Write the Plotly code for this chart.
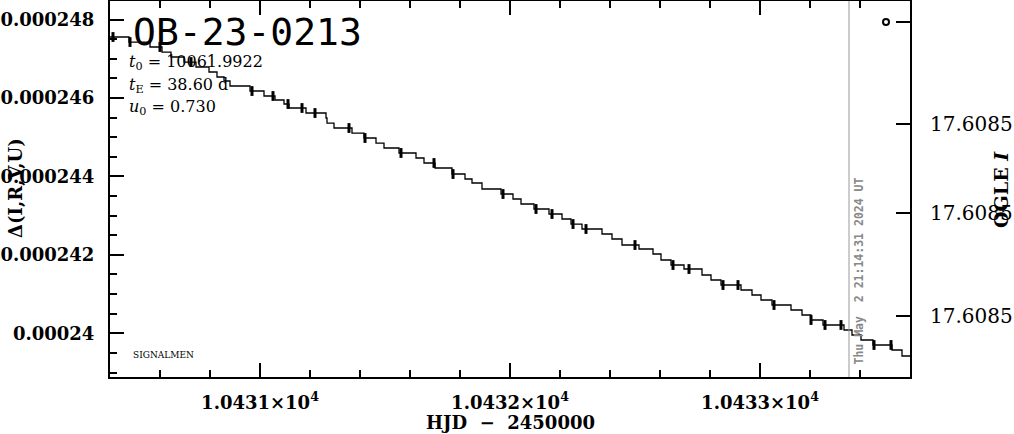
import numpy as np
import plotly.graph_objects as go

# ---- data ----
# staircase model curve: start HJD of each level and its Delta value (units of 1e-6)
step_hjd = [
    10430.400, 10430.476, 10430.560, 10430.608, 10430.644, 10430.696, 10430.744, 10430.796,
    10430.828, 10430.856, 10430.880, 10430.960, 10431.016, 10431.060, 10431.096, 10431.116,
    10431.184, 10431.264, 10431.268, 10431.296, 10431.368, 10431.416, 10431.464, 10431.496,
    10431.556, 10431.624, 10431.656, 10431.700, 10431.768, 10431.820, 10431.848, 10431.888,
    10431.964, 10432.012, 10432.044, 10432.096, 10432.156, 10432.208, 10432.244, 10432.288,
    10432.368, 10432.408, 10432.448, 10432.516, 10432.572, 10432.604, 10432.644, 10432.696,
    10432.768, 10432.804, 10432.844, 10432.924, 10432.968, 10433.004, 10433.048, 10433.124,
    10433.168, 10433.204, 10433.252, 10433.336, 10433.368, 10433.404, 10433.452, 10433.528,
    10433.568,
]
step_delta = [
    247.554, 247.426, 247.299, 247.171, 247.044, 246.916, 246.789, 246.662,
    246.534, 246.432, 246.305, 246.177, 246.050, 245.948, 245.846, 245.744,
    245.616, 245.489, 245.361, 245.234, 245.106, 244.979, 244.851, 244.724,
    244.597, 244.469, 244.342, 244.214, 244.061, 243.934, 243.832, 243.679,
    243.551, 243.424, 243.296, 243.169, 243.041, 242.914, 242.786, 242.659,
    242.532, 242.404, 242.251, 242.149, 242.022, 241.869, 241.741, 241.639,
    241.486, 241.359, 241.231, 241.104, 240.976, 240.849, 240.721, 240.594,
    240.467, 240.339, 240.212, 240.084, 239.957, 239.829, 239.702, 239.574,
    239.421,
]
curve_end_hjd = 10433.6

# observation epochs (small glitches on the curve)
obs_hjd = [
    10430.412, 10430.480, 10430.600, 10430.724, 10430.968, 10431.052, 10431.112,
    10431.168, 10431.220, 10431.356, 10431.420, 10431.564, 10431.696, 10431.772,
    10431.972, 10432.104, 10432.168, 10432.252, 10432.304, 10432.500, 10432.652, 10432.716,
    10432.852, 10432.912, 10433.056, 10433.204, 10433.260, 10433.324, 10433.456, 10433.524,
]

# single symbol at top right
sym_hjd = [10433.504]
sym_delta = [247.936]

now_hjd = 10433.356
now_label = "Thu May\u00a0\u00a02 21:14:31 2024 UT"

x_tick_vals = [10431, 10432, 10433]
x_tick_text = ["1.0431×10<sup>4</sup>", "1.0432×10<sup>4</sup>", "1.0433×10<sup>4</sup>"]
y_tick_vals = [240, 242, 244, 246, 248]          # units of 1e-6
y_tick_text = ["0.00024", "0.000242", "0.000244", "0.000246", "0.000248"]
r_tick_vals = [247.936, 245.336, 243.067, 240.441]  # units of 1e-6 on left scale
r_tick_text = ["", "17.6085", "17.6085", "17.6085"]

event_name = "OB-23-0213"
params = ["<i>t</i><sub>0</sub> = 10061.9922",
          "<i>t</i><sub>E</sub> = 38.60 d",
          "<i>u</i><sub>0</sub> = 0.730"]

# ---- figure ----
SC = 1e-6
W, H = 1014, 434
ML, MR, MT, MB = 110, 104, 1, 57
PW, PH = W - ML - MR, H - MT - MB

def px(xp):
    return (xp - ML) / PW

def py(yp):
    return (H - MB - yp) / PH

xr = [10430.4, 10433.6]
yr = [238.886 * SC, 248.472 * SC]

sx = np.array(step_hjd)
sy = np.array(step_delta) * SC
lx = np.append(sx, curve_end_hjd)
ly = np.append(sy, sy[-1])

idx = np.searchsorted(sx, np.array(obs_hjd), side="right") - 1
oy = sy[idx]

fig = go.Figure()
fig.add_trace(go.Scatter(x=lx, y=ly, mode="lines", line=dict(color="black", width=1.3, shape="hv"),
                         showlegend=False, hoverinfo="skip"))
fig.add_trace(go.Scatter(x=obs_hjd, y=oy, mode="markers",
                         marker=dict(symbol="line-ns", size=7, color="black",
                                     line=dict(width=3, color="black")),
                         showlegend=False, hoverinfo="skip"))
fig.add_trace(go.Scatter(x=sym_hjd, y=np.array(sym_delta) * SC, yaxis="y2", mode="markers",
                         marker=dict(symbol="circle-open", size=6, color="black", line=dict(width=2, color="black")),
                         showlegend=False, hoverinfo="skip"))

tickfont_b = dict(family="DejaVu Serif", size=18, color="black", weight="bold")

fig.update_layout(
    width=W, height=H,
    margin=dict(l=ML, r=MR, t=MT, b=MB, pad=0, autoexpand=False),
    paper_bgcolor="white", plot_bgcolor="white",
    xaxis=dict(range=xr, showgrid=False, zeroline=False, showline=True, linecolor="black", linewidth=2,
               mirror="ticks", ticks="inside", ticklen=14, tickwidth=1.5, tickcolor="black",
               tickmode="array", tickvals=x_tick_vals, ticktext=x_tick_text, automargin=False,
               tickfont=tickfont_b, ticklabelstandoff=8,
               minor=dict(ticks="inside", ticklen=7, tickwidth=1.5, tickcolor="black",
                          tickmode="linear", tick0=10430.4, dtick=0.2)),
    yaxis=dict(range=yr, showgrid=False, zeroline=False, showline=True, linecolor="black", linewidth=2,
               mirror=False, ticks="inside", ticklen=14, tickwidth=1.5, tickcolor="black",
               tickmode="array", tickvals=[v * SC for v in y_tick_vals], ticktext=y_tick_text,
               automargin=False, tickfont=tickfont_b, ticklabelstandoff=10,
               minor=dict(ticks="inside", ticklen=7, tickwidth=1.5, tickcolor="black",
                          tickmode="linear", tick0=240 * SC, dtick=0.5 * SC)),
    yaxis2=dict(range=yr, overlaying="y", side="right", showgrid=False, zeroline=False,
                showline=True, linecolor="black", linewidth=2, automargin=False,
                ticks="inside", ticklen=14, tickwidth=1.5, tickcolor="black",
                tickmode="array", tickvals=[v * SC for v in r_tick_vals], ticktext=r_tick_text,
                tickfont=dict(family="DejaVu Serif", size=20, color="black"), ticklabelstandoff=14),
    showlegend=False,
)

fig.add_shape(type="line", xref="x", yref="paper", x0=now_hjd, x1=now_hjd, y0=0, y1=1,
              line=dict(color="#999999", width=1))

anns = [
    dict(text=event_name, x=px(131), y=py(32), xanchor="left", yanchor="middle",
         font=dict(family="DejaVu Sans Mono", size=38, color="black")),
    dict(text=params[0], x=px(127), y=py(62), xanchor="left", yanchor="middle",
         font=dict(family="DejaVu Serif", size=16, color="black")),
    dict(text=params[1], x=px(127), y=py(85), xanchor="left", yanchor="middle",
         font=dict(family="DejaVu Serif", size=16, color="black")),
    dict(text=params[2], x=px(127), y=py(107), xanchor="left", yanchor="middle",
         font=dict(family="DejaVu Serif", size=16, color="black")),
    dict(text="SIGNALMEN", x=px(131), y=py(355), xanchor="left", yanchor="middle",
         font=dict(family="DejaVu Serif", size=9, color="black")),
    dict(text=now_label, x=px(858), y=py(367), xanchor="center", yanchor="bottom", textangle=-90,
         font=dict(family="DejaVu Sans Mono", size=11.5, color="#888888", weight="bold")),
    dict(text="Δ(I,R,V,U)", x=px(15), y=py(188), xanchor="center", yanchor="middle", textangle=-90,
         font=dict(family="DejaVu Serif", size=18, color="black", weight="bold")),
    dict(text="OGLE <i>I</i>", x=px(1001), y=py(190), xanchor="center", yanchor="middle", textangle=-90,
         font=dict(family="DejaVu Serif", size=19, color="black", weight="bold")),
    dict(text="HJD\u00a0\u00a0−\u00a0\u00a02450000", x=px(510), y=py(422), xanchor="center", yanchor="middle",
         font=dict(family="DejaVu Serif", size=18, color="black", weight="bold")),
]
for a in anns:
    fig.add_annotation(xref="paper", yref="paper", showarrow=False, **a)

fig.write_html("out.html", config={"displayModeBar": False},
               post_script="document.body.style.margin='0px';document.body.style.padding='0px';")
